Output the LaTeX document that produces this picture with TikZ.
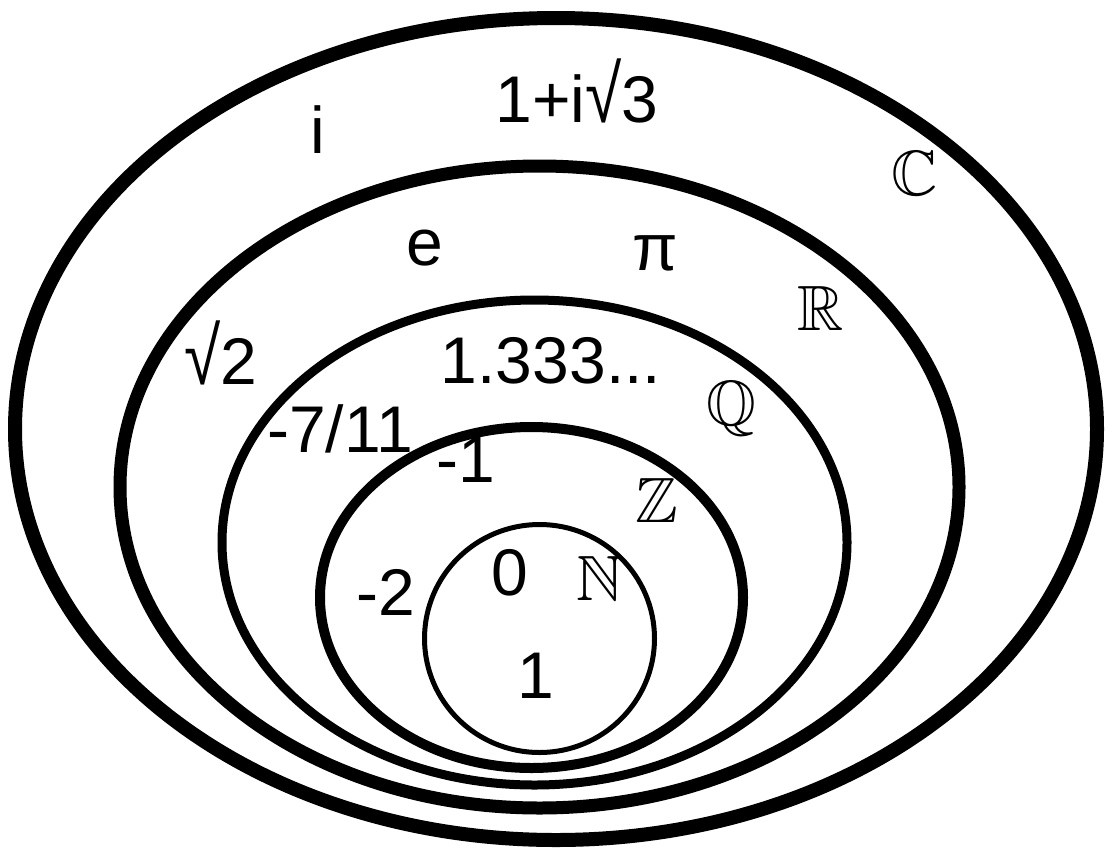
\documentclass[tikz,border=0pt]{standalone}
\usepackage{graphicx}
\usepackage{amssymb}
\usepackage{fontspec}
\setmainfont{Liberation Sans}
\newcommand{\tallsqrt}{\scalebox{1}[1.22]{√}}
\begin{document}
\begin{tikzpicture}[x=1pt,y=-1pt,
  ring/.style={draw=black},
  lbl/.style={anchor=base,inner sep=0pt,font=\fontsize{66}{70}\selectfont},
  setlbl/.style={anchor=base,inner sep=0pt,font=\fontsize{64}{70}\selectfont}]
\useasboundingbox (0,0) rectangle (1118,857);
\fill[white] (0,0) rectangle (1118,857);
% sets
\draw[ring,line width=14pt] (556,429) ellipse [x radius=541pt, y radius=411pt];
\draw[ring,line width=13pt] (539.5,487) ellipse [x radius=419.5pt, y radius=321pt];
\draw[ring,line width=9pt] (534.5,542.5) ellipse [x radius=312.5pt, y radius=242.5pt];
\draw[ring,line width=10pt] (531.5,597.5) ellipse [x radius=211.5pt, y radius=170.5pt];
\draw[ring,line width=5pt] (539.5,638.5) ellipse [x radius=115pt, y radius=114pt];
% set names
\node[setlbl] (nC) at (915,195) {$\mathbb{C}$};
\node[setlbl] (nR) at (821,330) {$\mathbb{R}$};
\node[setlbl] (nQ) at (731,425) {$\mathbb{Q}$};
\node[setlbl] (nZ) at (657,522) {$\mathbb{Z}$};
\node[setlbl] (nN) at (600,600) {$\mathbb{N}$};
% elements
\node[lbl] (ti) at (318,153) {i};
\node[lbl] (tc) at (577,122) {1+i\tallsqrt3};
\node[lbl] (te) at (425,265) {e};
\node[lbl] (tpi) at (655,270) {π};
\node[lbl] (ts2) at (221,384) {\tallsqrt2};
\node[lbl] (tq) at (551,383) {1.333...};
\node[lbl] (tf) at (340,452) {-7/11};
\node[lbl] (tm1) at (466,482) {-1};
\node[lbl] (tm2) at (386,615) {-2};
\node[lbl] (t0) at (510,595) {0};
\node[lbl] (t1) at (536,698) {1};
\end{tikzpicture}
\end{document}
